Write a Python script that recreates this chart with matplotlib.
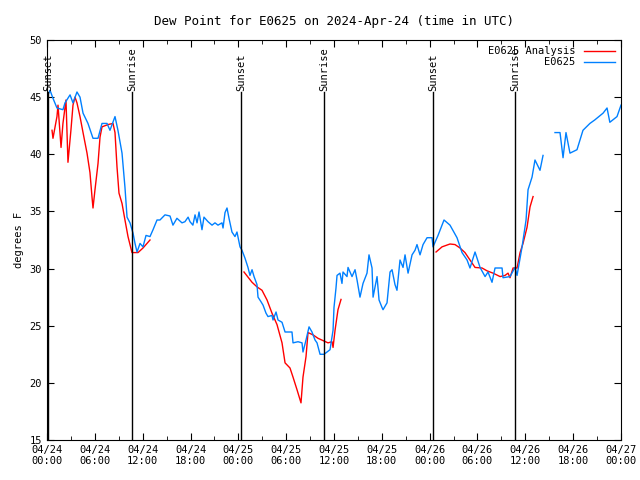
import numpy as np
import matplotlib
matplotlib.use('Agg')
import matplotlib.pyplot as plt

nan = float('nan')

# hours since 2024-04-24 00:00 UTC, dew point in degrees F
obs_hours = [0.0, 0.38, 0.75, 1.25, 2.0, 2.26, 2.89, 3.26, 3.76, 4.14, 4.52, 5.14, 5.77, 6.4,
             6.9, 7.53, 7.9, 8.53, 8.9, 9.41, 9.78, 10.04, 10.41, 10.79, 11.04, 11.29, 11.67,
             12.04, 12.42, 12.92, 13.3, 13.8, 14.17, 14.8, 15.43, 15.8, 16.3, 16.93, 17.3,
             17.7, 17.94, 18.3, 18.57, 18.82, 19.07, 19.44, 19.69, 20.2, 20.7, 21.07, 21.45,
             21.95, 22.08, 22.33, 22.58, 22.83, 23.2, 23.58, 23.83, 24.21, 24.46, 24.84,
             25.21, 25.46, 25.72, 25.97, 26.34, 26.47, 26.84, 27.1, 27.47, 27.72, 28.22,
             28.35, 28.73, 28.98, 29.48, 29.86, 30.73, 30.86, 31.49, 31.99, 32.11, 32.49,
             32.87, 33.24, 33.62, 33.87, 34.25, 34.75, 35.12, 35.5, 35.88, 36.0, 36.25,
             36.38, 36.75, 37.0, 37.13, 37.63, 37.76, 38.26, 38.64, 38.89, 39.26, 39.64,
             40.14, 40.39, 40.77, 40.9, 41.4, 41.65, 42.02, 42.15, 42.65, 43.03, 43.28,
             43.65, 43.9, 44.28, 44.66, 44.91, 45.29, 45.79, 46.16, 46.41, 46.79, 47.17,
             47.67, 48.3, 48.42, 49.05, 49.8, 50.55, 51.43, 52.06, 52.69, 53.06, 53.69,
             54.32, 54.95, 55.32, 55.82, 56.2, 57.08, 57.2, 58.08, 58.71, 58.96, 59.59,
             60.09, 60.34, 60.84, 61.21, 61.84, 62.22, 63.0,
             63.72, 64.35, 64.73, 65.1, 65.6, 66.48, 67.23, 68.1, 68.7, 69.75, 70.25,
             70.6, 71.5, 72.0]
obs_dewpt = [45.0, 45.6, 44.9, 44.05, 43.9, 44.5, 45.2, 44.5, 45.45, 45.0, 43.6, 42.7, 41.4, 41.4,
             42.7, 42.7, 42.1, 43.3, 42.1, 40.1, 37.1, 34.5, 34.0, 33.1, 32.2, 31.45, 32.2,
             31.9, 32.9, 32.8, 33.4, 34.25, 34.25, 34.7, 34.6, 33.8, 34.4, 34.0, 34.1,
             34.5, 34.1, 33.8, 34.7, 34.0, 34.95, 33.4, 34.5, 34.1, 33.8, 34.0, 33.8,
             34.0, 33.55, 34.9, 35.3, 34.4, 33.2, 32.8, 33.2, 31.9, 31.6, 30.9,
             30.1, 29.4, 29.9, 29.3, 28.6, 27.5, 27.1, 26.8, 26.1, 25.8, 25.9,
             25.5, 26.2, 25.5, 25.3, 24.45, 24.45, 23.5, 23.6, 23.5, 22.7, 23.75,
             24.9, 24.45, 23.75, 23.5, 22.5, 22.5, 22.7, 22.9, 24.6, 26.6, 28.3,
             29.4, 29.6, 28.7, 29.7, 29.3, 30.1, 29.3, 29.9, 29.0, 27.5, 28.7,
             29.6, 31.2, 30.05, 27.5, 29.3, 27.25, 26.6, 26.4, 27.0, 29.7, 29.9,
             28.6, 28.1, 30.75, 30.1, 31.2, 29.6, 31.2, 31.6, 32.1, 31.2, 32.1,
             32.7, 32.7, 31.9, 32.9, 34.25, 33.8, 32.7, 31.4, 30.75, 30.05, 31.45,
             30.1, 29.3, 29.7, 28.8, 30.05, 30.05, 29.2, 29.3, 30.1, 29.4, 31.9,
             34.25, 36.9, 38.0, 39.5, 38.6, 39.9, nan,
             41.9, 41.9, 39.7, 41.9, 40.1, 40.4, 42.1, 42.7, 43.0, 43.6, 44.05,
             42.8, 43.3, 44.3]

ana_hours = [0.63, 0.75, 1.25, 1.38, 1.76, 2.0, 2.38, 2.63, 3.0, 3.26, 3.51, 3.76, 4.14, 4.52,
             5.02, 5.39, 5.64, 5.77, 6.02, 6.4, 6.65, 6.9, 7.65, 8.28, 8.53, 8.78, 9.03,
             9.41, 9.78, 10.16, 10.66, 11.42, 12.04, 12.92, 18.0,
             24.71, 25.72, 26.34, 26.97, 27.6, 28.22, 28.85, 29.48, 29.86, 30.48, 30.86,
             31.36, 31.86, 32.11, 32.49, 32.74, 33.37, 33.99, 34.62, 35.25, 35.75, 35.88,
             36.13, 36.5, 36.88, 42.0,
             48.8, 49.55, 50.55, 51.18, 51.81, 52.43, 53.06, 53.69, 54.57, 55.2, 55.95,
             56.83, 57.45, 57.83, 58.08, 58.46, 58.96, 59.34, 59.71, 60.21, 60.59, 60.97]
ana_dewpt = [42.1, 41.4, 43.3, 44.3, 40.6, 42.7, 44.75, 39.3, 42.1, 44.3, 45.0, 44.5, 43.3, 41.9,
             40.1, 38.4, 36.3, 35.3, 36.9, 39.2, 41.5, 42.4, 42.6, 42.7, 41.9, 38.9, 36.6,
             35.7, 34.25, 32.8, 31.4, 31.4, 31.8, 32.5, nan,
             29.7, 28.8, 28.4, 28.1, 27.25, 26.1, 25.1, 23.5, 21.75, 21.3, 20.5,
             19.4, 18.25, 20.5, 22.3, 24.4, 24.2, 23.9, 23.7, 23.5, 23.6, 23.1,
             24.6, 26.4, 27.3, nan,
             31.45, 31.9, 32.15, 32.1, 31.8, 31.4, 30.75, 30.1, 30.05, 29.8, 29.6,
             29.3, 29.4, 29.6, 29.2, 30.05, 30.05, 31.4, 32.2, 33.6, 35.4, 36.3]

sun_hours = [0.13, 10.66, 24.33, 34.75, 48.42, 58.71]
sun_labels = ['Sunset', 'Sunrise', 'Sunset', 'Sunrise', 'Sunset', 'Sunrise']

tick_hours = list(range(0, 73, 6))
tick_labels = ['04/24\n00:00', '04/24\n06:00', '04/24\n12:00', '04/24\n18:00',
               '04/25\n00:00', '04/25\n06:00', '04/25\n12:00', '04/25\n18:00',
               '04/26\n00:00', '04/26\n06:00', '04/26\n12:00', '04/26\n18:00',
               '04/27\n00:00']

plt.rcParams['font.family'] = ['DejaVu Sans Mono']
plt.rcParams['font.size'] = 7.5

fig = plt.figure(figsize=(6.4, 4.8), dpi=100)
ax = fig.add_axes([47 / 640, 1 - 440 / 480, (621 - 47) / 640, 400 / 480])

ax.plot(ana_hours, ana_dewpt, color='#ff0000', lw=1.0, label='E0625 Analysis')
ax.plot(obs_hours, obs_dewpt, color='#0080ff', lw=1.0, label='E0625')

# sunrise / sunset markers
for h, lab in zip(sun_hours, sun_labels):
    ax.plot([h, h], [15, 45.45], color='black', lw=1.0)
    ax.text(h, 45.5, lab, rotation=90, ha='center', va='bottom')

ax.set_xlim(0, 72)
ax.set_ylim(15, 50)
ax.set_xticks(tick_hours)
ax.set_xticklabels(tick_labels)
ax.set_xticks(np.arange(0, 73, 3), minor=True)
ax.set_yticks(range(15, 51, 5))
ax.tick_params(which='both', direction='in', top=True, right=True)
ax.tick_params(which='major', length=5)
ax.tick_params(which='minor', length=3)
ax.set_ylabel('degrees F')
ax.set_title('Dew Point for E0625 on 2024-Apr-24 (time in UTC)', pad=11)

ax.legend(loc='upper right', frameon=False, markerfirst=False, handlelength=3,
          borderaxespad=0.2, labelspacing=0.1)

plt.savefig('out.png', dpi=100)
